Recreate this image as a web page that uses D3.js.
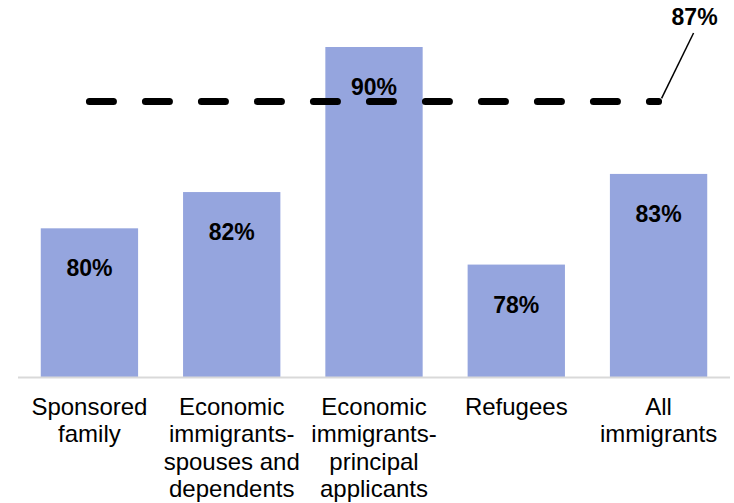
<!DOCTYPE html>
<html>
<head>
<meta charset="utf-8">
<script src="https://cdn.jsdelivr.net/npm/d3@7"></script>
<style>
  html, body { margin: 0; padding: 0; background: #ffffff; }
  svg { display: block; }
  text { font-family: "Liberation Sans", Arial, sans-serif; }
</style>
</head>
<body>
<svg id="chart" width="734" height="503"></svg>
<script>
// Share of each immigrant category (percent)
const categories = [
  ["Sponsored", "family"],
  ["Economic", "immigrants-", "spouses and", "dependents"],
  ["Economic", "immigrants-", "principal", "applicants"],
  ["Refugees"],
  ["All", "immigrants"]
];
const values = [80, 82, 90, 78, 83];
// Reference level drawn as a dashed line
const referenceValue = 87;

const svg = d3.select("#chart");

const baseline = 377;
const x = d3.scaleBand()
  .domain(d3.range(categories.length))
  .range([18, 730])
  .paddingInner(0.316)
  .paddingOuter(0.16);

const y = d3.scaleLinear()
  .domain([71.8, 90])
  .range([baseline, 47]);

const fmt = v => d3.format(".0f")(v) + "%";

// Bars
svg.append("g")
  .selectAll("rect")
  .data(values)
  .join("rect")
  .attr("x", (d, i) => x(i))
  .attr("width", x.bandwidth())
  .attr("y", d => y(d))
  .attr("height", d => baseline - y(d))
  .attr("fill", "#95a5de");

// Category axis line
svg.append("line")
  .attr("x1", x.range()[0])
  .attr("x2", x.range()[1])
  .attr("y1", baseline + 0.5)
  .attr("y2", baseline + 0.5)
  .attr("stroke", "#d9d9d9")
  .attr("stroke-width", 2);

// Value labels inside the bars
svg.append("g")
  .selectAll("text")
  .data(values)
  .join("text")
  .attr("x", (d, i) => x(i) + x.bandwidth() / 2)
  .attr("y", d => y(d) + 48)
  .attr("text-anchor", "middle")
  .attr("font-size", 23)
  .attr("font-weight", "bold")
  .attr("fill", "#000")
  .text(d => fmt(d));

// Dashed reference line across the category centres
const xStart = x(0) + x.bandwidth() / 2;
const xEnd = x(categories.length - 1) + x.bandwidth() / 2;
const yRef = y(referenceValue);
svg.append("line")
  .attr("x1", xStart)
  .attr("x2", xEnd)
  .attr("y1", yRef)
  .attr("y2", yRef)
  .attr("stroke", "#000")
  .attr("stroke-width", 7)
  .attr("stroke-linecap", "round")
  .attr("stroke-dasharray", "24 32");

// Leader line and label for the reference level
svg.append("line")
  .attr("x1", xEnd + 3)
  .attr("y1", yRef - 3)
  .attr("x2", xEnd + 35)
  .attr("y2", 33)
  .attr("stroke", "#000")
  .attr("stroke-width", 1.5);

svg.append("text")
  .attr("x", xEnd + 36)
  .attr("y", 25)
  .attr("text-anchor", "middle")
  .attr("font-size", 23)
  .attr("font-weight", "bold")
  .text(fmt(referenceValue));

// Category labels, one tspan per line
const catText = svg.append("g")
  .selectAll("text")
  .data(categories)
  .join("text")
  .attr("x", (d, i) => x(i) + x.bandwidth() / 2)
  .attr("y", 415)
  .attr("text-anchor", "middle")
  .attr("font-size", 24)
  .attr("fill", "#000");

catText.selectAll("tspan")
  .data(d => d)
  .join("tspan")
  .attr("x", function () { return this.parentNode.getAttribute("x"); })
  .attr("dy", (d, i) => i === 0 ? 0 : 27.3)
  .text(d => d);
</script>
</body>
</html>
